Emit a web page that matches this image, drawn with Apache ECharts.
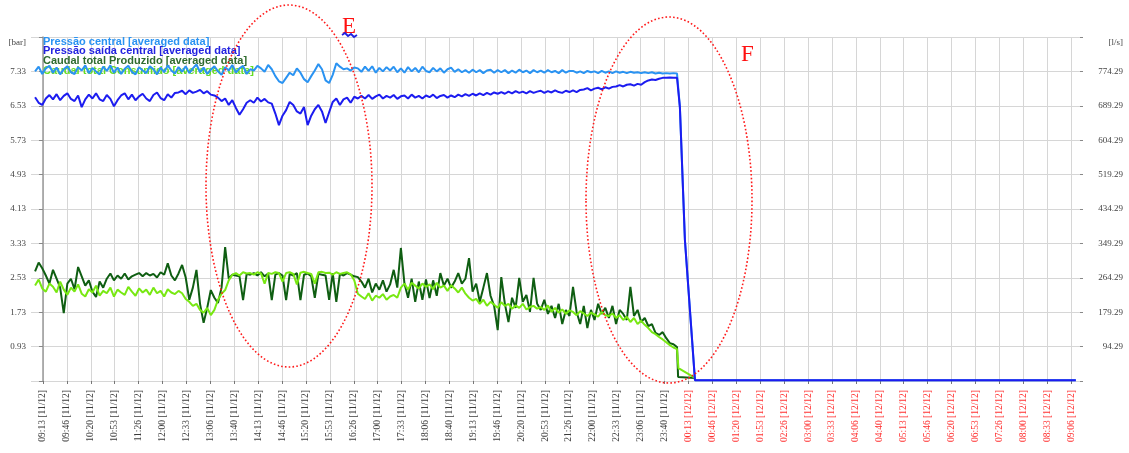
<!DOCTYPE html>
<html>
<head>
<meta charset="utf-8">
<script src="https://cdn.jsdelivr.net/npm/echarts@6/dist/echarts.min.js"></script>
<style>
  html, body { margin: 0; padding: 0; background: #ffffff; }
  #chart { width: 1129px; height: 453px; }
</style>
</head>
<body>
<div id="chart"></div>
<script>
// Axis tick labels along the time axis (one every 33m20s)
const timeLabels = [
  '09:13 [11/12]', '09:46 [11/12]', '10:20 [11/12]', '10:53 [11/12]', '11:26 [11/12]',
  '12:00 [11/12]', '12:33 [11/12]', '13:06 [11/12]', '13:40 [11/12]', '14:13 [11/12]',
  '14:46 [11/12]', '15:20 [11/12]', '15:53 [11/12]', '16:26 [11/12]', '17:00 [11/12]',
  '17:33 [11/12]', '18:06 [11/12]', '18:40 [11/12]', '19:13 [11/12]', '19:46 [11/12]',
  '20:20 [11/12]', '20:53 [11/12]', '21:26 [11/12]', '22:00 [11/12]', '22:33 [11/12]',
  '23:06 [11/12]', '23:40 [11/12]', '00:13 [12/12]', '00:46 [12/12]', '01:20 [12/12]',
  '01:53 [12/12]', '02:26 [12/12]', '03:00 [12/12]', '03:33 [12/12]', '04:06 [12/12]',
  '04:40 [12/12]', '05:13 [12/12]', '05:46 [12/12]', '06:20 [12/12]', '06:53 [12/12]',
  '07:26 [12/12]', '08:00 [12/12]', '08:33 [12/12]', '09:06 [12/12]'
];
const LABEL_STEP_MIN = 100 / 3;          // minutes between two time labels

// Series names (legend order)
const seriesNames = [
  'Pressão central [averaged data]',
  'Pressão saída central [averaged data]',
  'Caudal total Produzido [averaged data]',
  'Caudal total Consumido [averaged data]'
];

// Averaged samples, one every 5 minutes, first one at 09:02 (minute -11 from 09:13)
const SAMPLE_START_MIN = -11;
const SAMPLE_STEP_MIN = 5;

// Pressão central [bar]
const pressureCentral = [
  7.33,7.44,7.27,7.40,7.46,7.30,7.42,7.26,7.38,7.45,
  7.31,7.27,7.43,7.35,7.47,7.29,7.41,7.33,7.26,7.44,
  7.34,7.47,7.30,7.42,7.27,7.39,7.46,7.32,7.26,7.43,
  7.35,7.29,7.45,7.38,7.26,7.42,7.31,7.47,7.35,7.28,
  7.43,7.32,7.45,7.29,7.40,7.49,7.31,7.42,7.27,7.37,
  7.45,7.33,7.25,7.43,7.35,7.48,7.30,7.40,7.46,7.27,
  7.38,7.35,7.46,7.40,7.32,7.48,7.38,7.22,7.10,7.06,
  7.18,7.30,7.24,7.40,7.30,7.15,7.08,7.22,7.35,7.50,
  7.38,7.12,7.06,7.25,7.52,7.44,7.38,7.40,7.35,7.42,
  7.40,7.32,7.44,7.34,7.45,7.30,7.41,7.33,7.43,7.35,
  7.44,7.31,7.40,7.30,7.43,7.33,7.41,7.31,7.44,7.34,
  7.31,7.41,7.33,7.40,7.30,7.38,7.42,7.32,7.38,7.31,
  7.36,7.30,7.37,7.31,7.36,7.29,7.35,7.37,7.30,7.36,
  7.31,7.36,7.29,7.35,7.30,7.37,7.31,7.35,7.29,7.36,
  7.31,7.35,7.30,7.36,7.31,7.34,7.29,7.36,7.30,7.34,
  7.34,7.30,7.33,7.29,7.34,7.31,7.33,7.29,7.34,7.30,
  7.33,7.29,7.33,7.30,7.32,7.29,7.32,7.30,7.31,7.29,
  7.31,7.29,7.31,7.28,7.30,7.28,7.29,7.28,7.29,7.28
];
// Pressão saída central [bar]
const pressureOutlet = [
  6.73,6.60,6.55,6.70,6.78,6.68,6.80,6.66,6.76,6.82,
  6.69,6.64,6.77,6.50,6.68,6.79,6.70,6.82,6.68,6.64,
  6.78,6.69,6.52,6.66,6.77,6.82,6.68,6.79,6.66,6.75,
  6.81,6.70,6.64,6.78,6.84,6.71,6.66,6.80,6.72,6.83,
  6.84,6.88,6.80,6.89,6.83,6.86,6.90,6.82,6.87,6.79,
  6.77,6.72,6.64,6.70,6.55,6.66,6.48,6.32,6.45,6.60,
  6.66,6.60,6.72,6.63,6.69,6.61,6.58,6.35,6.08,6.30,
  6.43,6.62,6.55,6.40,6.35,6.50,6.08,6.30,6.45,6.55,
  6.40,6.13,6.38,6.62,6.70,6.55,6.68,6.72,6.60,6.74,
  6.70,6.76,6.70,6.78,6.69,6.75,6.79,6.70,6.76,6.72,
  6.78,6.69,6.75,6.77,6.70,6.79,6.72,6.76,6.70,6.77,
  6.73,6.79,6.71,6.76,6.78,6.72,6.77,6.73,6.79,6.75,
  6.80,6.76,6.81,6.77,6.82,6.78,6.83,6.79,6.84,6.81,
  6.85,6.81,6.86,6.82,6.87,6.83,6.86,6.82,6.87,6.83,
  6.86,6.88,6.83,6.87,6.84,6.89,6.85,6.83,6.88,6.85,
  6.89,6.85,6.90,6.91,6.94,6.89,6.93,6.95,6.91,6.96,
  6.93,6.97,6.98,7.01,6.98,7.02,7.03,7.00,7.04,7.02,
  7.08,7.12,7.14,7.13,7.16,7.18,7.18,7.19,7.18,7.18
];
// Pump stop: pressure collapse and idle readings until the end of the period [minute, bar]
const pressureCentralStop = [[888, 6.50], [895, 3.41], [905, 1.08], [909, 0.15], [1440, 0.15]];
const pressureOutletStop = [[888, 6.50], [895, 3.41], [905, 1.08], [909, 0.15], [1440, 0.15]];

// Caudal total Produzido [l/s]
const flowProduced = [
  280,302,288,270,250,284,262,240,177,250,
  262,236,291,268,245,258,230,217,255,240,
  262,275,258,270,262,275,260,268,272,276,
  268,276,270,274,265,278,272,300,270,258,
  275,296,265,210,240,284,200,153,190,234,
  215,202,240,340,262,272,270,268,209,274,
  272,276,270,278,268,275,209,272,276,270,
  209,274,270,276,209,272,275,268,215,274,
  272,270,210,276,205,274,270,276,272,268,
  266,255,240,262,228,250,235,258,230,248,
  284,240,338,250,215,262,205,255,210,260,
  214,258,220,276,245,262,240,255,276,250,
  262,313,230,250,205,240,276,220,195,135,
  266,200,155,215,190,264,205,222,180,264,
  200,185,210,175,195,165,200,150,185,170,
  242,180,150,195,140,185,160,200,175,190,
  165,195,150,185,175,160,242,170,185,155,
  165,145,150,128,123,130,115,103,100,93
];
// Caudal total Consumido [l/s]
const flowConsumed = [
  245,260,238,230,250,242,228,255,235,222,
  240,230,248,225,218,236,228,245,220,232,
  226,240,218,235,228,222,242,230,220,238,
  228,235,222,240,226,232,218,236,228,224,
  232,226,212,205,195,200,185,178,190,172,
  185,210,225,234,258,272,276,270,278,275,
  276,272,278,275,250,276,274,278,276,255,
  276,278,274,248,277,279,276,274,250,278,
  279,276,277,272,278,274,276,278,273,258,
  225,218,212,226,208,220,215,224,210,218,
  222,215,240,250,235,252,245,238,250,242,
  248,236,252,240,245,232,246,238,228,240,
  225,215,208,212,200,210,195,205,198,190,
  204,195,200,188,196,190,200,186,192,195,
  188,192,185,196,180,190,178,186,175,184,
  180,172,182,176,170,178,174,168,180,172,
  170,176,165,172,160,168,155,165,150,158,
  148,140,130,125,118,112,105,98,92,88
];
const flowProducedStop = [[885.5, 19], [909, 17]];
const flowConsumedStop = [[886, 41], [909, 17]];

// Axis scales
const PRESSURE_MIN = 0.13, PRESSURE_MAX = 8.13, PRESSURE_STEP = 0.8;
const FLOW_MIN = 9.29, FLOW_MAX = 859.29, FLOW_STEP = 85;

const colors = {
  central: '#2a93f2',
  outlet: '#1c1cf0',
  produced: '#0f5e12',
  consumed: '#78e812'
};
const legendColors = ['#2a93f2', '#2323e0', '#2f6b2f', '#66dd22'];

function toPairs(values) {
  return values.map((v, i) => [SAMPLE_START_MIN + i * SAMPLE_STEP_MIN, v]);
}

const chart = echarts.init(document.getElementById('chart'), null, { renderer: 'canvas' });

const lineSeries = (name, color, yIdx, data, z, width) => ({
  name,
  type: 'line',
  xAxisIndex: 1,
  yAxisIndex: yIdx,
  data,
  showSymbol: false,
  symbol: 'none',
  z,
  lineStyle: { color, width },
  itemStyle: { color },
  animation: false
});

const legendTops = [36, 45, 55, 65];

chart.setOption({
  backgroundColor: '#ffffff',
  animation: false,
  textStyle: { fontFamily: 'Liberation Sans' },
  grid: { left: 31, right: 46, top: 37, bottom: 72, containLabel: false },
  legend: seriesNames.map((name, k) => ({
    data: [{ name, textStyle: { color: legendColors[k] } }],
    left: 38,
    top: legendTops[k],
    padding: 0,
    itemWidth: 0,
    itemHeight: 0,
    icon: 'rect',
    selectedMode: false,
    z: 1,
    textStyle: { fontSize: 11, fontWeight: 'bold', fontFamily: 'Liberation Sans', lineHeight: 12 }
  })),
  xAxis: [
    {
      type: 'category',
      data: timeLabels,
      boundaryGap: true,
      axisLine: { show: false },
      axisTick: { show: true, alignWithLabel: true, length: 3, lineStyle: { color: '#777' } },
      splitLine: { show: true, alignWithLabel: true, lineStyle: { color: '#d6d6d6', width: 1 } },
      axisLabel: {
        interval: 0,
        rotate: 90,
        margin: 9,
        fontFamily: 'Liberation Serif',
        fontSize: 9.5,
        color: (value) => (value.indexOf('[12/12]') >= 0 ? '#ff3030' : '#3a3a3a')
      }
    },
    {
      type: 'value',
      show: false,
      min: -LABEL_STEP_MIN / 2,
      max: (timeLabels.length - 0.5) * LABEL_STEP_MIN,
      splitLine: { show: false }
    }
  ],
  yAxis: [
    {
      type: 'value',
      position: 'left',
      min: PRESSURE_MIN,
      max: PRESSURE_MAX,
      interval: PRESSURE_STEP,
      axisLine: { show: true, lineStyle: { color: '#9a9a9a', width: 1.5 } },
      axisTick: { show: true, length: 4, lineStyle: { color: '#888' } },
      splitLine: { show: true, lineStyle: { color: '#d6d6d6', width: 1 } },
      axisLabel: {
        margin: 5,
        fontFamily: 'Liberation Serif',
        fontSize: 9,
        color: '#444',
        formatter: (v) => {
          if (Math.abs(v - PRESSURE_MAX) < 1e-6) return '{u|[bar]}';
          if (Math.abs(v - PRESSURE_MIN) < 1e-6) return '';
          return v.toFixed(2);
        },
        rich: { u: { padding: [12, 0, 0, 0], fontFamily: 'Liberation Serif', fontSize: 9, color: '#444' } }
      }
    },
    {
      type: 'value',
      position: 'right',
      min: FLOW_MIN,
      max: FLOW_MAX,
      interval: FLOW_STEP,
      axisLine: { show: false },
      axisTick: { show: true, inside: true, length: 3, lineStyle: { color: '#888' } },
      splitLine: { show: false },
      axisLabel: {
        margin: 40,
        align: 'right',
        fontFamily: 'Liberation Serif',
        fontSize: 9,
        color: '#444',
        formatter: (v) => {
          if (Math.abs(v - FLOW_MAX) < 1e-6) return '{u|[l/s]}';
          if (Math.abs(v - FLOW_MIN) < 1e-6) return '';
          return v.toFixed(2);
        },
        rich: { u: { padding: [12, 0, 0, 0], fontFamily: 'Liberation Serif', fontSize: 9, color: '#444' } }
      }
    }
  ],
  series: [
    lineSeries(seriesNames[2], colors.produced, 1, toPairs(flowProduced).concat(flowProducedStop), 2, 2),
    lineSeries(seriesNames[3], colors.consumed, 1, toPairs(flowConsumed).concat(flowConsumedStop), 3, 2),
    lineSeries(seriesNames[0], colors.central, 0, toPairs(pressureCentral).concat(pressureCentralStop), 4, 2),
    lineSeries(seriesNames[1], colors.outlet, 0, toPairs(pressureOutlet).concat(pressureOutletStop), 5, 2)
  ],
  graphic: [
    {
      type: 'ellipse',
      shape: { cx: 289, cy: 186, rx: 83, ry: 181 },
      style: { fill: null, stroke: '#ff1a1a', lineWidth: 1.6, lineDash: [1.6, 2.2] },
      z: 100
    },
    {
      type: 'ellipse',
      shape: { cx: 669, cy: 200, rx: 83, ry: 183 },
      style: { fill: null, stroke: '#ff1a1a', lineWidth: 1.6, lineDash: [1.6, 2.2] },
      z: 100
    },
    {
      type: 'text',
      left: 342,
      top: 15,
      style: { text: 'E', fill: '#ff1010', font: '23px "Liberation Serif"' },
      z: 100
    },
    {
      type: 'polyline',
      shape: { points: [[342, 35], [345, 33], [348, 36], [351, 34], [354, 37], [357, 35]] },
      style: { stroke: '#2020e0', lineWidth: 1.8, fill: null },
      z: 100
    },
    {
      type: 'text',
      left: 741,
      top: 43,
      style: { text: 'F', fill: '#ff1010', font: '23px "Liberation Serif"' },
      z: 100
    }
  ]
});
</script>
</body>
</html>
